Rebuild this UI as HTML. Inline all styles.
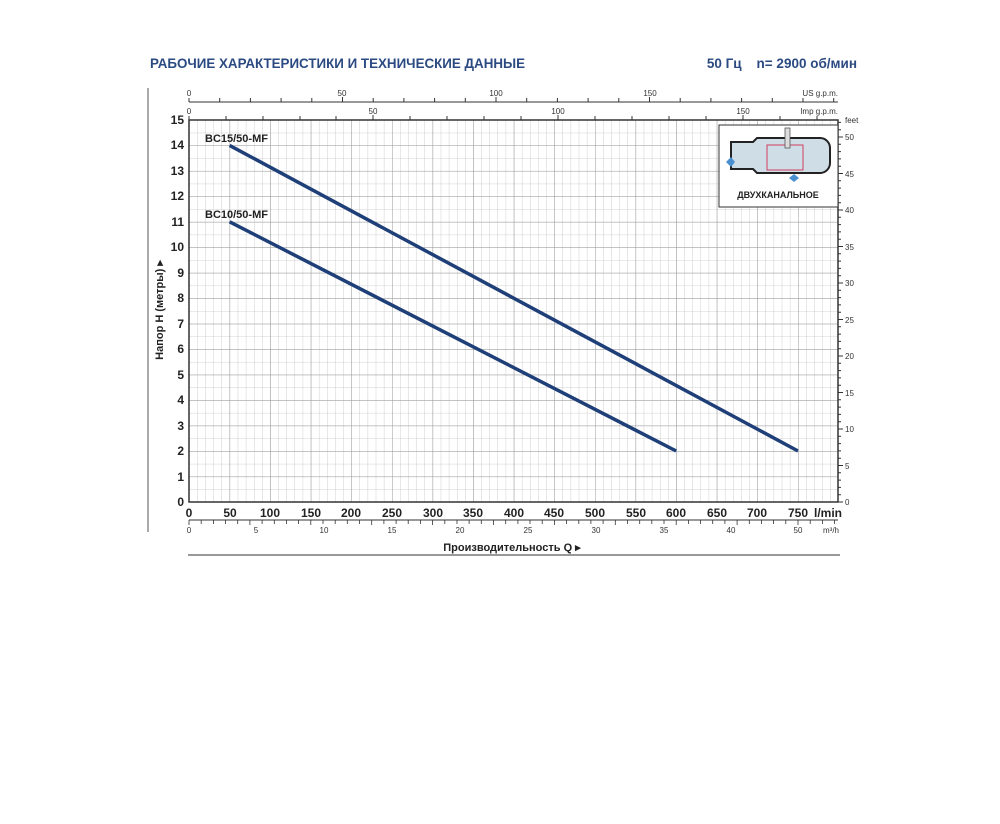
<!DOCTYPE html>
<html><head><meta charset="utf-8"><style>
body{margin:0;background:#fff;}
svg text{font-family:"Liberation Sans",sans-serif;}
</style></head><body>
<svg width="1000" height="819" viewBox="0 0 1000 819" xmlns="http://www.w3.org/2000/svg">
<defs>
<pattern id="minor" x="189" y="120" width="8.12" height="12.735" patternUnits="userSpaceOnUse">
<path d="M0 0V12.735M0 0H8.12" stroke="#c4c4c4" stroke-width="0.8" fill="none"/>
</pattern>
<pattern id="major" x="189" y="120" width="40.6" height="25.47" patternUnits="userSpaceOnUse">
<path d="M0 0V25.47M0 0H40.6" stroke="#9a9a9a" stroke-width="1" fill="none"/>
</pattern>
</defs>
<text x="150" y="68" font-size="14" font-weight="bold" fill="#2b4a82" textLength="375" lengthAdjust="spacingAndGlyphs">РАБОЧИЕ ХАРАКТЕРИСТИКИ И ТЕХНИЧЕСКИЕ ДАННЫЕ</text>
<text x="857" y="68" font-size="13.5" font-weight="bold" fill="#2b4a82" text-anchor="end" xml:space="preserve">50 Гц    n= 2900 об/мин</text>
<line x1="148" y1="88" x2="148" y2="532" stroke="#555" stroke-width="1"/>
<rect x="189" y="120" width="649" height="382" fill="url(#minor)"/>
<rect x="189" y="120" width="649" height="382" fill="url(#major)"/>
<rect x="189" y="120" width="649" height="382" fill="none" stroke="#333" stroke-width="1.5"/>
<line x1="189" y1="102" x2="838" y2="102" stroke="#333"/>
<g stroke="#333"><path d="M189 102v-4M219.7 102v-4M250.4 102v-4M281.1 102v-4M311.8 102v-4M342.5 102v-5M373.2 102v-4M403.9 102v-4M434.6 102v-4M465.3 102v-4M496 102v-5M526.7 102v-4M557.4 102v-4M588.1 102v-4M618.8 102v-4M649.5 102v-5M680.2 102v-4M710.9 102v-4M741.6 102v-4M772.3 102v-4M803 102v-4M833.7 102v-4"/>
<path d="M189 120v-4M226 120v-4M263 120v-4M300 120v-4M336 120v-4M373 120v-5M410 120v-4M447 120v-4M484 120v-4M521 120v-4M558 120v-5M595 120v-4M632 120v-4M669 120v-4M706 120v-4M743 120v-5M780 120v-4M817 120v-4"/></g>
<g font-size="8" fill="#333" text-anchor="middle">
<text x="189" y="96">0</text><text x="342" y="96">50</text><text x="496" y="96">100</text><text x="650" y="96">150</text>
<text x="189" y="114">0</text><text x="373" y="114">50</text><text x="558" y="114">100</text><text x="743" y="114">150</text>
<text x="838" y="96" text-anchor="end">US g.p.m.</text><text x="838" y="114" text-anchor="end">Imp g.p.m.</text>
</g>
<g font-size="12" font-weight="bold" fill="#222" text-anchor="end">
<text x="184" y="506">0</text><text x="184" y="481">1</text><text x="184" y="455">2</text><text x="184" y="430">3</text><text x="184" y="404">4</text><text x="184" y="379">5</text><text x="184" y="353">6</text><text x="184" y="328">7</text><text x="184" y="302">8</text><text x="184" y="277">9</text><text x="184" y="251">10</text><text x="184" y="226">11</text><text x="184" y="200">12</text><text x="184" y="175">13</text><text x="184" y="149">14</text><text x="184" y="124">15</text>
</g>
<text transform="translate(163,310) rotate(-90)" font-size="11" font-weight="bold" fill="#222" text-anchor="middle">Напор H (метры) ▸</text>
<g stroke="#333"><path d="M838 502h5M838 465.5h5M838 429h5M838 392.5h5M838 356h5M838 319.5h5M838 283h5M838 246.5h5M838 210h5M838 173.5h5M838 137h5"/>
<path d="M838 494.7h3M838 487.4h3M838 480.1h3M838 472.8h3M838 458.2h3M838 450.9h3M838 443.6h3M838 436.3h3M838 421.7h3M838 414.4h3M838 407.1h3M838 399.8h3M838 385.2h3M838 377.9h3M838 370.6h3M838 363.3h3M838 348.7h3M838 341.4h3M838 334.1h3M838 326.8h3M838 312.2h3M838 304.9h3M838 297.6h3M838 290.3h3M838 275.7h3M838 268.4h3M838 261.1h3M838 253.8h3M838 239.2h3M838 231.9h3M838 224.6h3M838 217.3h3M838 202.7h3M838 195.4h3M838 188.1h3M838 180.8h3M838 166.2h3M838 158.9h3M838 151.6h3M838 144.3h3M838 129.7h3M838 122.4h3"/></g>
<g font-size="8" fill="#333">
<text x="845" y="505">0</text><text x="845" y="469">5</text><text x="845" y="432">10</text><text x="845" y="396">15</text><text x="845" y="359">20</text><text x="845" y="323">25</text><text x="845" y="286">30</text><text x="845" y="250">35</text><text x="845" y="213">40</text><text x="845" y="177">45</text><text x="845" y="140">50</text><text x="845" y="123">feet</text>
</g>
<g font-size="12" font-weight="bold" fill="#222" text-anchor="middle">
<text x="189" y="517">0</text><text x="230" y="517">50</text><text x="270" y="517">100</text><text x="311" y="517">150</text><text x="351" y="517">200</text><text x="392" y="517">250</text><text x="433" y="517">300</text><text x="473" y="517">350</text><text x="514" y="517">400</text><text x="554" y="517">450</text><text x="595" y="517">500</text><text x="636" y="517">550</text><text x="676" y="517">600</text><text x="717" y="517">650</text><text x="757" y="517">700</text><text x="798" y="517">750</text><text x="828" y="517">l/min</text>
</g>
<line x1="189" y1="520" x2="838" y2="520" stroke="#333"/>
<g stroke="#333" stroke-width="0.8"><path d="M189 520v5M201.2 520v4M213.4 520v4M225.5 520v4M237.7 520v4M249.9 520v5M262.1 520v4M274.3 520v4M286.4 520v4M298.6 520v4M310.8 520v5M323 520v4M335.2 520v4M347.3 520v4M359.5 520v4M371.7 520v5M383.9 520v4M396.1 520v4M408.2 520v4M420.4 520v4M432.6 520v5M444.8 520v4M457 520v4M469.1 520v4M481.3 520v4M493.5 520v5M505.7 520v4M517.9 520v4M530 520v4M542.2 520v4M554.4 520v5M566.6 520v4M578.8 520v4M590.9 520v4M603.1 520v4M615.3 520v5M627.5 520v4M639.7 520v4M651.8 520v4M664 520v4M676.2 520v5M688.4 520v4M700.6 520v4M712.7 520v4M724.9 520v4M737.1 520v5M749.3 520v4M761.5 520v4M773.6 520v4M785.8 520v4M798 520v5M810.2 520v4M822.4 520v4M834.5 520v4"/></g>
<g font-size="8" fill="#333" text-anchor="middle">
<text x="189" y="533">0</text><text x="256" y="533">5</text><text x="324" y="533">10</text><text x="392" y="533">15</text><text x="460" y="533">20</text><text x="528" y="533">25</text><text x="596" y="533">30</text><text x="664" y="533">35</text><text x="731" y="533">40</text><text x="798" y="533">50</text><text x="831" y="533">m³/h</text>
</g>
<text x="512" y="551" font-size="11" font-weight="bold" fill="#222" text-anchor="middle">Производительность Q ▸</text>
<line x1="188" y1="555" x2="840" y2="555" stroke="#999" stroke-width="2"/>
<line x1="229.6" y1="145.4" x2="798" y2="451" stroke="#1f3f78" stroke-width="3.5"/>
<line x1="229.6" y1="221.8" x2="676.2" y2="451" stroke="#1f3f78" stroke-width="3.5"/>
<text x="205" y="142" font-size="11" font-weight="bold" fill="#222">BC15/50-MF</text>
<text x="205" y="218" font-size="11" font-weight="bold" fill="#222">BC10/50-MF</text>
<rect x="719" y="125" width="119" height="82" fill="#fff" stroke="#333" stroke-width="1"/>
<path d="M731 142h22l4-4h63a10 10 0 0 1 10 10v15a10 10 0 0 1 -10 10h-63l-4-4h-22z" fill="#cfdde6" stroke="#222" stroke-width="2"/>
<rect x="767" y="145" width="36" height="25" fill="none" stroke="#d04060" stroke-width="1"/>
<rect x="785" y="128" width="5" height="20" fill="#ddd" stroke="#555" stroke-width="0.8"/>
<path d="M726 162l5-5 4 5-4 5z" fill="#4a90d0"/>
<path d="M789 178l5-4 5 4-5 4z" fill="#4a90d0"/>
<text x="778" y="198" font-size="9" font-weight="bold" fill="#222" text-anchor="middle">ДВУХКАНАЛЬНОЕ</text>
</svg>
</body></html>
